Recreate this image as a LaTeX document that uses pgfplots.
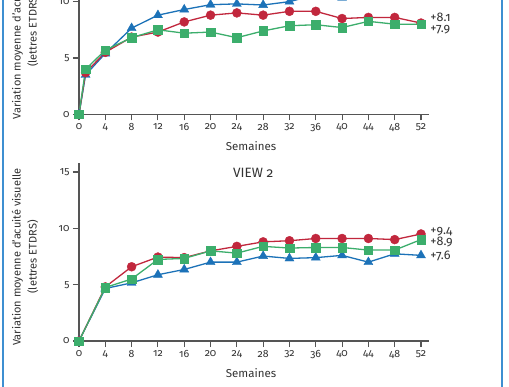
\documentclass[border=0pt]{standalone}
\usepackage{fontspec}
\setmainfont{Fira Sans}[Numbers=OldStyle]
\usepackage{pgfplots}
\pgfplotsset{compat=1.18}
\definecolor{cred}{HTML}{C1273D}
\definecolor{cgreen}{HTML}{3CAE6C}
\definecolor{cblue}{HTML}{1C72B8}
\definecolor{axisgray}{HTML}{555555}
\definecolor{textgray}{HTML}{333333}
\definecolor{frameblue}{HTML}{3D8FD1}
\tikzset{lab/.style={anchor=west, inner sep=0pt, font=\fontsize{12.5}{14}\selectfont, text=textgray}}
\pgfplotsset{
  panel/.style={
    scale only axis, width=349.9pt, height=178pt,
    xmin=0, xmax=53.2, ymin=0, ymax=15.8,
    axis x line=bottom, axis y line=left,
    axis line style={-, draw=axisgray, line width=1.1pt},
    every outer x axis line/.append style={-},
    every outer y axis line/.append style={-},
    xtick={0,4,...,52}, ytick={0,5,10,15},
    tick align=outside, major tick length=6pt,
    tick style={draw=axisgray, line width=1.1pt},
    ticklabel style={font=\fontsize{10.5}{12}\selectfont, text=textgray},
    /pgf/number format/assume math mode=true,
    clip=false, anchor=south west,
    xlabel={Semaines},
    xlabel style={at={(axis description cs:0.4916,0)}, anchor=center, yshift=-32pt,
      font=\fontsize{11.5}{13}\selectfont, text=textgray},
    ylabel={Variation moyenne d'acuité visuelle\\(lettres ETDRS)},
    ylabel style={at={(axis description cs:0,0.472)}, anchor=center, yshift=54pt,
      align=center, font=\fontsize{11}{16}\selectfont, text=textgray},
    every axis plot/.append style={line width=1.3pt},
  },
  sred/.style={draw=cred, mark=*, mark size=4.5pt, mark options={fill=cred, draw=cred, line width=0.4pt}},
  sgreen/.style={draw=cgreen, mark=square*, mark size=4.3pt, mark options={fill=cgreen, draw=cgreen, line width=0.4pt}},
  sblue/.style={draw=cblue, mark=triangle*, mark size=5.2pt, mark options={fill=cblue, draw=cblue, line width=0.4pt}},
}
\begin{document}
\begin{tikzpicture}[x=1pt,y=1pt]
\useasboundingbox (0,0) rectangle (509,386);
\clip (0,0) rectangle (509,386);
\fill[white] (0,0) rectangle (509,386);
\draw[frameblue, line width=1.8pt] (3,-10) -- (3,400);
\draw[frameblue, line width=1.8pt] (502,-10) -- (502,400);

% VIEW 1 (top)
\begin{axis}[panel, at={(79pt,271.7pt)}]
\addplot[sblue] coordinates {(0,0) (1,3.5) (4,5.4) (8,7.65) (12,8.8) (16,9.3) (20,9.73) (24,9.8) (28,9.7) (32,10.0) (36,10.6) (40,10.35) (44,10.8) (48,10.8) (52,10.9)};
\addplot[sred] coordinates {(0,0) (1,3.7) (4,5.5) (8,6.85) (12,7.3) (16,8.2) (20,8.8) (24,9.0) (28,8.8) (32,9.14) (36,9.14) (40,8.5) (44,8.6) (48,8.6) (52,8.1)};
\addplot[sgreen] coordinates {(0,0) (1,4.0) (4,5.7) (8,6.8) (12,7.5) (16,7.2) (20,7.3) (24,6.8) (28,7.4) (32,7.86) (36,7.95) (40,7.7) (44,8.25) (48,8.0) (52,8.0)};
\node[font=\fontsize{13.5}{15}\selectfont, text=textgray] at (axis cs:26.5,14.9) {VIEW 1};
\node[lab] at (axis cs:53.4,11.3) {+10.9};
\node[lab] at (axis cs:53.4,8.63) {+8.1};
\node[lab] at (axis cs:53.4,7.48) {+7.9};
\end{axis}

% VIEW 2 (bottom)
\begin{axis}[panel, at={(79pt,45pt)}]
\addplot[sblue] coordinates {(0,0) (4,4.66) (8,5.16) (12,5.88) (16,6.35) (20,7.0) (24,7.0) (28,7.54) (32,7.33) (36,7.4) (40,7.6) (44,7.0) (48,7.74) (52,7.6)};
\addplot[sred] coordinates {(0,0) (4,4.8) (8,6.59) (12,7.45) (16,7.4) (20,8.0) (24,8.4) (28,8.8) (32,8.9) (36,9.1) (40,9.1) (44,9.1) (48,9.0) (52,9.5)};
\addplot[sgreen] coordinates {(0,0) (4,4.75) (8,5.5) (12,7.24) (16,7.33) (20,8.0) (24,7.8) (28,8.4) (32,8.25) (36,8.3) (40,8.3) (44,8.07) (48,8.07) (52,9.0)};
\node[font=\fontsize{13.5}{15}\selectfont, text=textgray] at (axis cs:26.5,14.9) {VIEW 2};
\node[lab] at (axis cs:53.4,9.72) {+9.4};
\node[lab] at (axis cs:53.4,8.75) {+8.9};
\node[lab] at (axis cs:53.4,7.54) {+7.6};
\end{axis}
\end{tikzpicture}
\end{document}
